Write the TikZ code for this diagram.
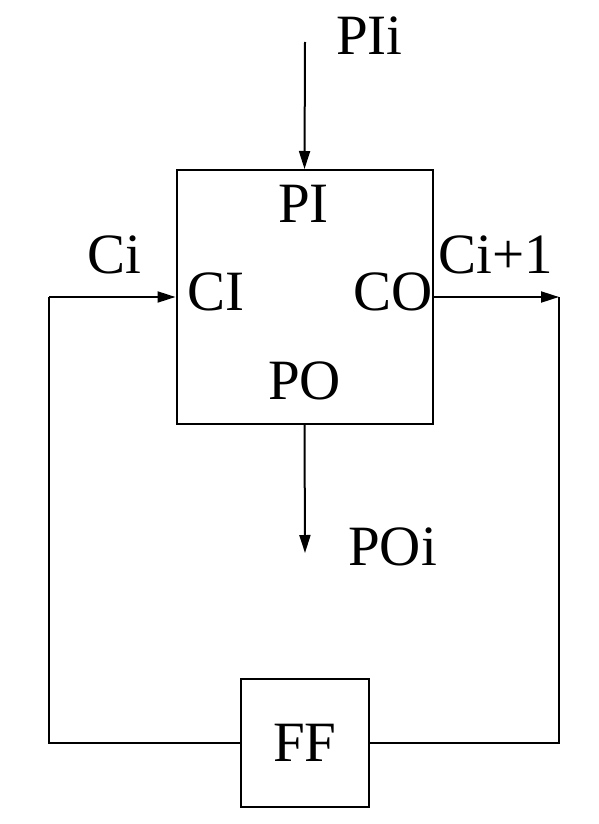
\documentclass[tikz,border=0pt]{standalone}
\usepackage{fontspec}
\setmainfont{Liberation Serif}
\usetikzlibrary{arrows.meta}
\tikzset{
  blk/.style={draw,line width=2pt,inner sep=0pt},
  lbl/.style={inner sep=0pt,font=\fontsize{57}{60}\selectfont},
  wire/.style={line width=2pt},
  arr/.style={wire,-{Triangle[length=18pt,width=11pt]}}
}

\begin{document}
\begin{tikzpicture}[x=1pt,y=-1pt]
\useasboundingbox (0,0) rectangle (598,824);

% the two blocks
\node[blk,minimum width=256pt,minimum height=254pt] (cell) at (304.5,297) {};
\node[blk,minimum size=128pt,lbl] (ff) at (305,743) {FF};

% port names inside the cell
\node[lbl,anchor=base west] (pi) at (278,222) {PI};
\node[lbl,anchor=base west] (ci) at (187,310) {CI};
\node[lbl,anchor=base east] (co) at (433,310) {CO};
\node[lbl,anchor=base west] (po) at (268,399) {PO};

% signal names
\node[lbl,anchor=base west] (pii) at (336,55) {PIi};
\node[lbl,anchor=base west] (cin) at (87,273) {Ci};
\node[lbl,anchor=base west] (cout) at (438,273) {Ci+1};
\node[lbl,anchor=base west] (poi) at (348,565) {POi};

% free ends
\coordinate (top) at (305,42);
\coordinate (bot) at (305,553);
\coordinate (lft) at (49,297);
\coordinate (rgt) at (559,297);

\draw[arr] (top) -- (cell.north);
\draw[arr] (cell.south) -- (bot);
\draw[arr] (cell.east) -- (rgt);
\draw[wire] (rgt) |- (ff.east);
\draw[wire] (ff.west) -| (lft);
\draw[arr] (lft) -- (cell.west);

\end{tikzpicture}
\end{document}
